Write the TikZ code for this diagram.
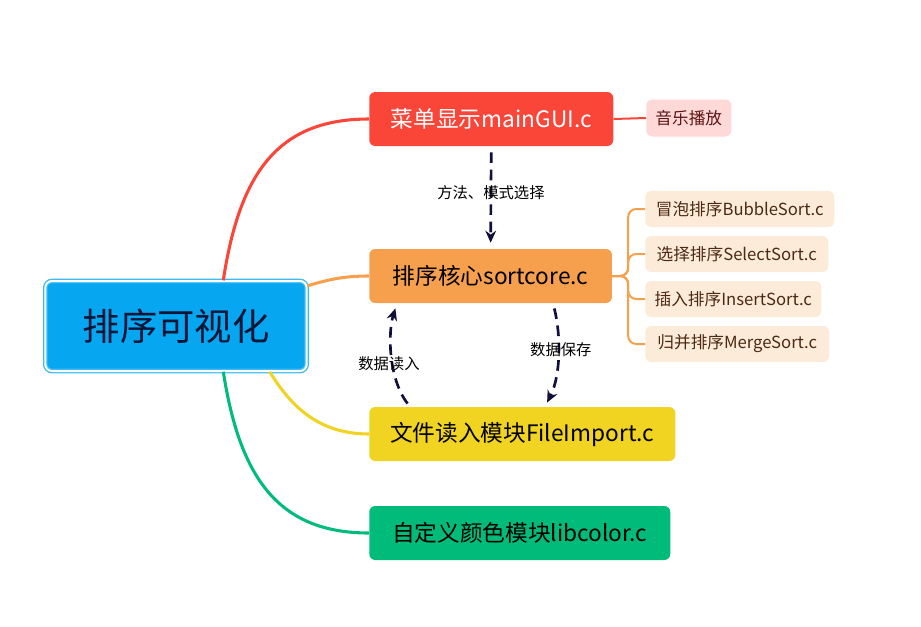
\documentclass[tikz,border=0pt]{standalone}
\usepackage{fontspec}
\setmainfont{Noto Sans CJK SC}
\usetikzlibrary{arrows.meta}

\definecolor{rootblue}{HTML}{06A6F1}
\definecolor{rootrim}{HTML}{3DBBF2}
\definecolor{rootink}{HTML}{0B1536}
\definecolor{menured}{HTML}{FA4539}
\definecolor{coreorange}{HTML}{F6A04D}
\definecolor{fileyellow}{HTML}{F1D321}
\definecolor{colorgreen}{HTML}{00BB7A}
\definecolor{leafpeach}{HTML}{FDEBDA}
\definecolor{leafbrown}{HTML}{4A2A12}
\definecolor{leafpink}{HTML}{FFD8D8}
\definecolor{musicred}{HTML}{5E1414}
\definecolor{flownavy}{HTML}{10103A}

\begin{document}
\begin{tikzpicture}[x=0.75pt, y=-0.75pt,
  box/.style={rounded corners=4.5pt, minimum height=40.5pt, anchor=west, text=black, font=\fontsize{17}{20}\selectfont},
  leaf/.style={rounded corners=4.5pt, fill=leafpeach, text=leafbrown, minimum height=27pt, anchor=west, font=\fontsize{12.5}{15}\selectfont},
  branch/.style={line width=2.3pt},
  flow/.style={flownavy, line width=2pt, dash pattern=on 8pt off 5pt, -{Stealth[length=9pt, width=8pt]}},
  tag/.style={text=black, font=\fontsize{11.5}{14}\selectfont}]
\useasboundingbox (0, 0) rectangle (921, 626);

\node[fill=rootblue, draw=rootrim, double=white, double distance=1.5pt, line width=1pt, rounded corners=5pt,
  minimum width=196pt, minimum height=67.5pt, text=rootink, font=\fontsize{28}{32}\selectfont] (root) at (176, 326) {排序可视化};

\node[box, fill=menured, text=white, minimum width=183pt] (menu) at (369, 119) {菜单显示mainGUI.c};
\node[box, fill=coreorange, minimum width=182pt] (core) at (369, 276) {排序核心sortcore.c};
\node[box, fill=fileyellow, minimum width=229.5pt] (file) at (369, 434) {文件读入模块FileImport.c};
\node[box, fill=colorgreen, minimum width=225.75pt] (libcolor) at (369, 533) {自定义颜色模块libcolor.c};

\node[leaf, fill=leafpink, text=musicred, minimum width=63.75pt, minimum height=27.75pt] (music) at (646, 118) {音乐播放};
\node[leaf, minimum width=141.75pt] (bubble) at (645, 209) {冒泡排序BubbleSort.c};
\node[leaf, minimum width=137.25pt] (select) at (645, 254) {选择排序SelectSort.c};
\node[leaf, minimum width=132pt] (insert) at (645, 299) {插入排序InsertSort.c};
\node[leaf, minimum width=138pt] (merge) at (645, 344) {归并排序MergeSort.c};

% branches from the root
\draw[branch, menured] (root.44) .. controls (240, 170) and (280, 119) .. (menu.west);
\draw[branch, coreorange] (root.17) .. controls (330, 279) and (345, 276) .. (core.west);
\draw[branch, fileyellow] (root.-26) .. controls (292, 408) and (320, 434) .. (file.west);
\draw[branch, colorgreen] (root.-44) .. controls (240, 480) and (280, 533) .. (libcolor.west);

\draw[line width=1.5pt, menured] (menu.east) -- (music.west);
\draw[line width=1.5pt, coreorange, rounded corners=6pt] (core.east) -- ++(16, 0) |- (bubble.west);
\draw[line width=1.5pt, coreorange, rounded corners=6pt] (core.east) -- ++(16, 0) |- (select.west);
\draw[line width=1.5pt, coreorange, rounded corners=6pt] (core.east) -- ++(16, 0) |- (insert.west);
\draw[line width=1.5pt, coreorange, rounded corners=6pt] (core.east) -- ++(16, 0) |- (merge.west);

% data flow
\draw[flow, shorten <=4.5pt, shorten >=4.5pt] (menu.south) -- node[tag, pos=0.45] {方法、模式选择} (core.north);
\draw[flow, shorten <=3pt, shorten >=4pt] (file.north -| 410,0) .. controls (388, 378) and (388, 332) .. node[tag, pos=0.42, xshift=-3pt] {数据读入} (core.south -| 397,0);
\draw[flow, shorten <=4pt, shorten >=3.5pt] (core.south -| 553,0) .. controls (561, 335) and (561, 375) .. node[tag, pos=0.45, xshift=2pt] {数据保存} (file.north -| 545,0);
\end{tikzpicture}
\end{document}
